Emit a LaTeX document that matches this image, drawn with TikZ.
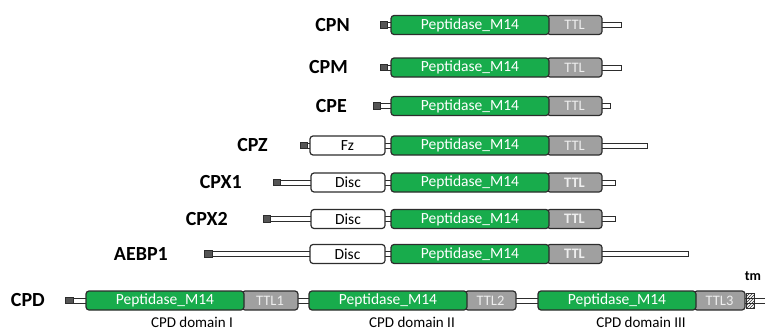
\documentclass[tikz,border=0pt]{standalone}
\usepackage{fontspec}
\setmainfont{Carlito}
\usetikzlibrary{patterns}
\definecolor{pepgreen}{RGB}{24,172,76}
\definecolor{ttlgray}{RGB}{160,160,160}
\definecolor{ttltext}{RGB}{238,238,238}
\definecolor{outl}{RGB}{45,45,45}
\definecolor{siggray}{RGB}{85,85,85}
\tikzset{
 box/.style={draw=outl, line width=1.2pt, rounded corners=3pt, minimum height=19pt, inner sep=0pt, outer sep=0pt, anchor=west},
 pep/.style={box, fill=pepgreen, text=white, font=\fontsize{15.5}{16}\selectfont},
 ttl/.style={box, fill=ttlgray, text=ttltext, font=\fontsize{14.5}{15}\selectfont},
 ttlb/.style={ttl, font=\bfseries\fontsize{14.5}{15}\selectfont},
 wbox/.style={box, fill=white, text=black, font=\fontsize{15.5}{16}\selectfont},
 bar/.style={draw=outl, line width=0.9pt, fill=white, minimum height=5pt, inner sep=0pt, outer sep=0pt, anchor=west},
 sig/.style={draw=outl, line width=0.8pt, fill=siggray, minimum height=6.5pt, inner sep=0pt, outer sep=0pt, anchor=west},
 tmbox/.style={draw=outl, line width=0.8pt, fill=white, pattern=north east lines, pattern color=outl, minimum height=15pt, inner sep=0pt, outer sep=0pt, anchor=west},
 lab/.style={font=\bfseries\fontsize{20}{20}\selectfont, anchor=east, inner sep=0pt},
 dlab/.style={font=\fontsize{15}{15}\selectfont, inner sep=0pt},
}
% \seg{style}{name}{x1}{x2}{y}{text}
\newcommand\seg[6]{\node[#1, minimum width={#4-#3}] (#2) at (#3,#5) {#6};}
\begin{document}
\begin{tikzpicture}[x=1pt,y=-1pt]
\useasboundingbox (0,0) rectangle (765,332);
% CPN
\seg{bar}{nbar}{384}{621}{25}{}
\seg{sig}{nsig}{380}{387}{25}{}
\seg{ttl}{nttl}{547}{602}{25}{TTL}
\seg{pep}{npep}{391}{549}{25}{Peptidase\_M14}
\node[lab] (nlab) at (350,25) {CPN};
% CPM
\seg{bar}{mbar}{384}{621}{67.5}{}
\seg{sig}{msig}{380}{387}{67.5}{}
\seg{ttl}{mttl}{547}{602}{67.5}{TTL}
\seg{pep}{mpep}{391}{549}{67.5}{Peptidase\_M14}
\node[lab] (mlab) at (348,67.5) {CPM};
% CPE
\seg{bar}{ebar}{377}{610}{106}{}
\seg{sig}{esig}{373}{380}{106}{}
\seg{ttl}{ettl}{547}{602}{106}{TTL}
\seg{pep}{epep}{391}{549}{106}{Peptidase\_M14}
\node[lab] (elab) at (347,106) {CPE};
% CPZ
\seg{bar}{zbar}{304}{647}{145.5}{}
\seg{sig}{zsig}{300}{307}{145.5}{}
\seg{wbox}{zfz}{310}{385}{145.5}{Fz}
\seg{ttl}{zttl}{547}{602}{145.5}{TTL}
\seg{pep}{zpep}{391}{549}{145.5}{Peptidase\_M14}
\node[lab] (zlab) at (268,145.5) {CPZ};
% CPX1
\seg{bar}{x1bar}{277}{615}{182.5}{}
\seg{sig}{x1sig}{273}{280}{182.5}{}
\seg{wbox}{x1disc}{311}{385}{182.5}{Disc}
\seg{ttlb}{x1ttl}{547}{602}{182.5}{TTL}
\seg{pep}{x1pep}{391}{549}{182.5}{Peptidase\_M14}
\node[lab] (x1lab) at (242,182.5) {CPX1};
% CPX2
\seg{bar}{x2bar}{267}{615}{219}{}
\seg{sig}{x2sig}{263}{270}{219}{}
\seg{wbox}{x2disc}{311}{385}{219}{Disc}
\seg{ttlb}{x2ttl}{547}{602}{219}{TTL}
\seg{pep}{x2pep}{391}{549}{219}{Peptidase\_M14}
\node[lab] (x2lab) at (228,219) {CPX2};
% AEBP1
\seg{bar}{abar}{208}{688}{254}{}
\seg{sig}{asig}{204}{212}{254}{}
\seg{wbox}{adisc}{310}{385}{254}{Disc}
\seg{ttlb}{attl}{547}{602}{254}{TTL}
\seg{pep}{apep}{391}{549}{254}{Peptidase\_M14}
\node[lab] (alab) at (168,254) {AEBP1};
% CPD
\seg{bar}{dbar}{69}{770}{300.5}{}
\seg{sig}{dsig}{65}{73}{300.5}{}
\seg{ttl}{dttl1}{242}{298}{300.5}{TTL1}
\seg{pep}{dpep1}{86}{244}{300.5}{Peptidase\_M14}
\seg{ttl}{dttl2}{465}{516}{300.5}{TTL2}
\seg{pep}{dpep2}{309}{467}{300.5}{Peptidase\_M14}
\seg{ttl}{dttl3}{694}{745}{300.5}{TTL3}
\seg{pep}{dpep3}{538}{696}{300.5}{Peptidase\_M14}
\seg{tmbox}{dtm}{746}{754}{300.5}{}
\node[lab] (dlab) at (45,300.5) {CPD};
\node[font=\bfseries\fontsize{14}{14}\selectfont, inner sep=0pt] (tmlab) at (753,276) {tm};
\node[dlab] (dd1) at (192,322) {CPD domain I};
\node[dlab] (dd2) at (412,322) {CPD domain II};
\node[dlab] (dd3) at (641,322) {CPD domain III};
\end{tikzpicture}
\end{document}
